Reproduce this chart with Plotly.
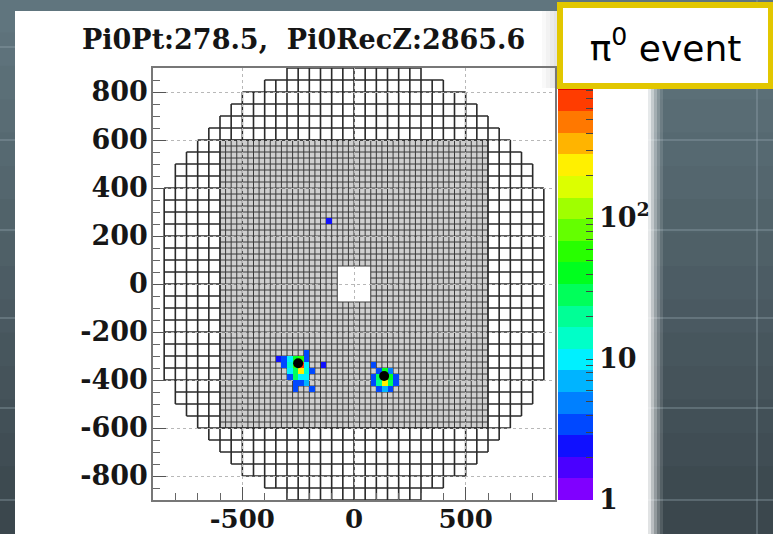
import numpy as np
import plotly.graph_objects as go

# ---------------- data ----------------
TITLE = "Pi0Pt:278.5,  Pi0RecZ:2865.6"

# calorimeter geometry (mm)
LARGE_SIZE = 50
SMALL_SIZE = 25
SMALL_HALF = 600
HOLE_HALF = 75
# large-crystal rows: lower edge of |y| band and half-width of the row
large_row_band = [0, 50, 100, 150, 200, 250, 300, 350, 400, 450, 500, 550, 600, 650, 700, 750, 800, 850]
large_row_halfwidth = [850, 850, 850, 850, 850, 850, 850, 850, 800, 800, 750, 700, 650, 600, 550, 500, 400, 300]

# hit crystals (small crystal centres, mm) and deposited energy
hit_x = [-212.5,
         -337.5, -312.5, -287.5, -262.5, -237.5, -212.5,
         -312.5, -287.5, -262.5, -237.5, -212.5, -137.5,
         -287.5, -262.5, -237.5, -212.5, -187.5,
         -287.5, -262.5, -237.5, -212.5,
         -262.5, -237.5, -212.5,
         -262.5, -187.5,
         87.5,
         112.5, 137.5, 162.5,
         87.5, 112.5, 137.5, 162.5, 187.5,
         87.5, 112.5, 137.5, 162.5, 187.5,
         112.5, 137.5, 162.5,
         -112.5]
hit_y = [-287.5,
         -312.5, -312.5, -312.5, -312.5, -312.5, -312.5,
         -337.5, -337.5, -337.5, -337.5, -337.5, -337.5,
         -362.5, -362.5, -362.5, -362.5, -362.5,
         -387.5, -387.5, -387.5, -387.5,
         -412.5, -412.5, -412.5,
         -437.5, -437.5,
         -337.5,
         -362.5, -362.5, -362.5,
         -387.5, -387.5, -387.5, -387.5, -387.5,
         -412.5, -412.5, -412.5, -412.5, -412.5,
         -437.5, -437.5, -437.5,
         262.5]
hit_e = [3,
         2.5, 3, 10, 40, 60, 3,
         3, 12, 50, 800, 10, 2.5,
         9, 30, 200, 12, 3,
         3, 25, 10, 9,
         3, 3, 8,
         3, 3,
         3,
         4, 40, 5,
         3, 30, 700, 35, 3,
         4, 20, 250, 25, 3,
         4, 8, 3,
         2.5]

# reconstructed gamma positions
gamma_x = [-250, 135]
gamma_y = [-330, -383]

# colour axis
Z_MAX_LOG = 3.064
cbar_major = [0, 1, 2, 3]
cbar_major_text = ["1", "10", "10<sup>2</sup>", "10<sup>3</sup>"]

y_ticks = [-800, -600, -400, -200, 0, 200, 400, 600, 800]
y_ticktext = ["-800", "-600", "-400", "-200", "0", "200", "400", "600", "800"]
x_ticks = [-500, 0, 500]
x_ticktext = ["-500", "0", "500"]

# ---------------- style ----------------
palette = ['#8000ff', '#4a00ff', '#1010ff', '#0048ff', '#0080ff', '#00b4ff', '#00f0ff',
           '#00ffc8', '#00ff96', '#00ff5a', '#00ff1e', '#28ff00', '#64ff00', '#a0ff00',
           '#dcff00', '#fff000', '#ffb400', '#ff7800', '#ff3c00', '#e00000']
colorscale = []
n = len(palette)
for i, c in enumerate(palette):
    colorscale.append([i / n, c])
    colorscale.append([(i + 1) / n, c])

W, H = 773, 534
L, R, T, B = 153, 555, 68, 500   # plot area in px


def px_x(px):
    return (px - L) / (R - L)


def px_y(py):
    return (B - py) / (B - T)


# ---------------- crystal outline paths ----------------
large_h, large_v, small_h, small_v = {}, {}, {}, {}


def add_cell(x0, y0, s, hd, vd):
    for yy in (y0, y0 + s):
        hd.setdefault(yy, set()).add((x0, x0 + s))
    for xx in (x0, x0 + s):
        vd.setdefault(xx, set()).add((y0, y0 + s))


for yb, hw in zip(large_row_band, large_row_halfwidth):
    for y0 in (yb, -yb - LARGE_SIZE):
        for x0 in range(-hw, hw, LARGE_SIZE):
            cx, cy = x0 + LARGE_SIZE / 2, y0 + LARGE_SIZE / 2
            if abs(cx) < SMALL_HALF and abs(cy) < SMALL_HALF:
                continue
            add_cell(x0, y0, LARGE_SIZE, large_h, large_v)

for x0 in range(-SMALL_HALF, SMALL_HALF, SMALL_SIZE):
    for y0 in range(-SMALL_HALF, SMALL_HALF, SMALL_SIZE):
        cx, cy = x0 + SMALL_SIZE / 2, y0 + SMALL_SIZE / 2
        if abs(cx) < HOLE_HALF and abs(cy) < HOLE_HALF:
            continue
        add_cell(x0, y0, SMALL_SIZE, small_h, small_v)


def merged(intervals):
    out = []
    for a, b in sorted(intervals):
        if out and a <= out[-1][1]:
            out[-1][1] = max(out[-1][1], b)
        else:
            out.append([a, b])
    return out


def build_path(hd, vd):
    parts = []
    for yy, ivs in hd.items():
        for a, b in merged(ivs):
            parts.append(f"M{a},{yy}L{b},{yy}")
    for xx, ivs in vd.items():
        for a, b in merged(ivs):
            parts.append(f"M{xx},{a}L{xx},{b}")
    return "".join(parts)


large_path = build_path(large_h, large_v)
small_path = build_path(small_h, small_v)

# ---------------- hit matrix ----------------
centres = np.arange(-SMALL_HALF + SMALL_SIZE / 2, SMALL_HALF, SMALL_SIZE)
nc = len(centres)
zmat = [[None] * nc for _ in range(nc)]
for x, y, e in zip(hit_x, hit_y, hit_e):
    j = int(round((x - centres[0]) / SMALL_SIZE))
    i = int(round((y - centres[0]) / SMALL_SIZE))
    zmat[i][j] = float(np.log10(e))

cb_vals, cb_text = [], []
for d in range(0, 4):
    for k in range(1, 10):
        v = d + np.log10(k)
        if v > Z_MAX_LOG:
            continue
        cb_vals.append(v)
        cb_text.append(cbar_major_text[d] if k == 1 else " ")

fig = go.Figure()
fig.add_trace(go.Heatmap(
    x=centres, y=centres, z=zmat, zmin=0, zmax=Z_MAX_LOG,
    colorscale=colorscale, hoverinfo="skip", zsmooth=False,
    colorbar=dict(
        x=px_x(558), xanchor="left", xpad=0, y=0, yanchor="bottom", ypad=0,
        len=1, lenmode="fraction", thickness=35, thicknessmode="pixels",
        outlinewidth=0, ticks="inside", ticklen=7, tickwidth=1.2, tickcolor="#444",
        tickmode="array", tickvals=cb_vals, ticktext=cb_text,
        tickfont=dict(family="DejaVu Serif", size=27, color="#161616", weight="bold"),
    ),
))
fig.add_trace(go.Scatter(
    x=gamma_x, y=gamma_y, mode="markers",
    marker=dict(color="black", size=10, line=dict(width=0)),
    hoverinfo="skip", showlegend=False,
))

shapes = []
# slide background gradient bands
top_c = np.array([0x62, 0x77, 0x80])
bot_c = np.array([0x3a, 0x46, 0x4c])
nb = 16
for k in range(nb):
    t = (k + 0.5) / nb
    c = top_c * (1 - t) + bot_c * t
    col = "rgb(%d,%d,%d)" % tuple(c)
    shapes.append(dict(type="rect", xref="paper", yref="paper", layer="below",
                       x0=px_x(-5), x1=px_x(780),
                       y0=px_y(k * H / nb + H / nb + 1), y1=px_y(k * H / nb - 1),
                       fillcolor=col, line=dict(width=0)))
# slide template grid lines
for gy in [47, 140, 230, 318, 408, 500]:
    shapes.append(dict(type="line", xref="paper", yref="paper", layer="below",
                       x0=px_x(-5), x1=px_x(780), y0=px_y(gy), y1=px_y(gy),
                       line=dict(color="rgba(150,170,180,0.45)", width=1.5)))
for gx in [757]:
    shapes.append(dict(type="line", xref="paper", yref="paper", layer="below",
                       x0=px_x(gx), x1=px_x(gx), y0=px_y(-5), y1=px_y(540),
                       line=dict(color="rgba(150,170,180,0.45)", width=1.5)))
# white figure panel with soft right edge
shapes.append(dict(type="rect", xref="paper", yref="paper", layer="below",
                   x0=px_x(15), x1=px_x(648), y0=px_y(540), y1=px_y(11),
                   fillcolor="white", line=dict(width=0)))
for k, a in enumerate([0.85, 0.65, 0.45, 0.28, 0.12]):
    shapes.append(dict(type="rect", xref="paper", yref="paper", layer="below",
                       x0=px_x(648 + 3 * k), x1=px_x(651 + 3 * k), y0=px_y(540), y1=px_y(11),
                       fillcolor="rgba(255,255,255,%.2f)" % a, line=dict(width=0)))
# soft shadow to the left of the label box
for k, a in enumerate([0.04, 0.08, 0.12, 0.16]):
    shapes.append(dict(type="rect", xref="paper", yref="paper", layer="below",
                       x0=px_x(542 + 4 * k), x1=px_x(546 + 4 * k), y0=px_y(88), y1=px_y(11),
                       fillcolor="rgba(90,90,90,%.2f)" % a, line=dict(width=0)))
# small-crystal region fill (moire grey) and beam hole
shapes.append(dict(type="rect", xref="x", yref="y", layer="below",
                   x0=-SMALL_HALF, x1=SMALL_HALF, y0=-SMALL_HALF, y1=SMALL_HALF,
                   fillcolor="#cfcfcf", line=dict(width=0)))
shapes.append(dict(type="rect", xref="x", yref="y", layer="below",
                   x0=-HOLE_HALF, x1=HOLE_HALF, y0=-HOLE_HALF, y1=HOLE_HALF,
                   fillcolor="white", line=dict(width=0)))
# crystal outlines
shapes.append(dict(type="path", xref="x", yref="y", layer="below", path=small_path,
                   line=dict(color="#3a3a3a", width=1)))
shapes.append(dict(type="path", xref="x", yref="y", layer="below", path=large_path,
                   line=dict(color="#2a2a2a", width=1.6)))

tickfont_y = dict(family="DejaVu Serif", size=27, color="#161616", weight="bold")
tickfont_x = dict(family="DejaVu Serif", size=26, color="#161616", weight="bold")

fig.update_layout(
    width=W, height=H, autosize=False,
    margin=dict(l=L, r=W - R, t=T, b=H - B, pad=0, autoexpand=False),
    paper_bgcolor="#4b5c64", plot_bgcolor="white",
    shapes=shapes, showlegend=False,
    xaxis=dict(range=[-900, 900], showline=True, linecolor="#777", linewidth=1.5, mirror=True,
               ticks="inside", ticklen=13, tickwidth=1.2, tickcolor="#555",
               tickmode="array", tickvals=x_ticks, ticktext=x_ticktext, tickfont=tickfont_x,
               ticklabelstandoff=-5,
               showgrid=True, gridcolor="#b8b8b8", griddash="dot", gridwidth=1, zeroline=False,
               minor=dict(dtick=100, tick0=0, ticks="inside", ticklen=7, tickcolor="#666",
                          showgrid=False)),
    yaxis=dict(range=[-900, 900], showline=True, linecolor="#777", linewidth=1.5, mirror=True,
               ticks="inside", ticklen=13, tickwidth=1.2, tickcolor="#555",
               tickmode="array", tickvals=y_ticks, ticktext=y_ticktext, tickfont=tickfont_y,
               ticklabelstandoff=-2,
               showgrid=True, gridcolor="#b8b8b8", griddash="dot", gridwidth=1, zeroline=False,
               minor=dict(dtick=50, tick0=0, ticks="inside", ticklen=7, tickcolor="#666",
                          showgrid=False)),
    annotations=[
        dict(text="<b>" + TITLE + "</b>", xref="paper", yref="paper",
             x=px_x(303), y=px_y(40), xanchor="center", yanchor="middle", showarrow=False,
             font=dict(family="DejaVu Serif", size=27, color="#151515")),
        dict(text="π<sup>0</sup> event", xref="paper", yref="paper",
             x=px_x(557), y=px_y(2), xanchor="left", yanchor="top", showarrow=False,
             width=205, height=75, bgcolor="white", bordercolor="#e2c700",
             borderwidth=6, borderpad=0, align="center",
             font=dict(family="DejaVu Sans", size=36, color="black")),
    ],
)

fig.write_html("out.html", config={"displayModeBar": False},
               post_script="document.body.style.margin='0';document.body.style.padding='0';"
                           "document.documentElement.style.overflow='hidden';")
